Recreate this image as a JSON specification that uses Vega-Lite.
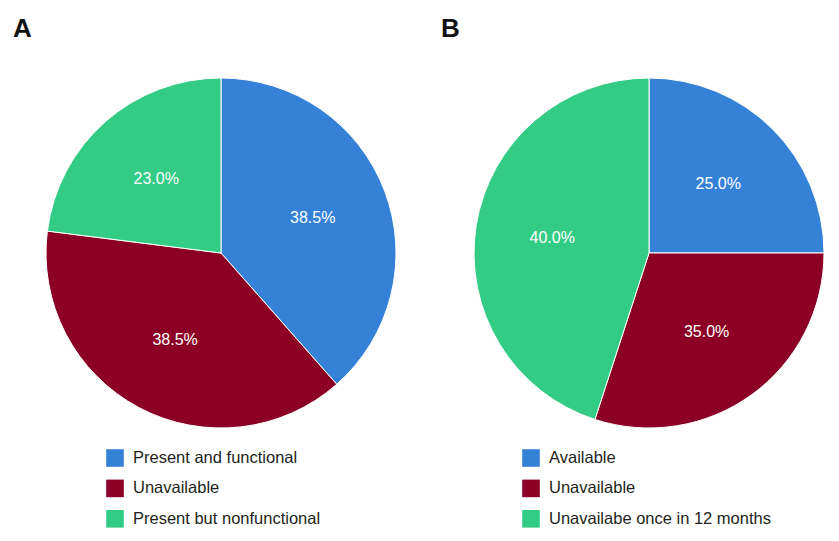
{
  "$schema": "https://vega.github.io/schema/vega-lite/v6.json",
  "autosize": {"type": "pad"},
  "padding": {"left": 13, "top": 16, "right": 5, "bottom": 5},
  "background": "white",
  "bounds": "flush",
  "spacing": 78,
  "resolve": {"scale": {"color": "independent", "theta": "independent"}, "legend": {"color": "independent"}},
  "config": {
    "view": {"stroke": null},
    "font": "Liberation Sans",
    "title": {"anchor": "start", "fontSize": 26, "fontWeight": "bold", "font": "Liberation Sans", "color": "#111111", "offset": 34, "baseline": "alphabetic", "dx": -31},
    "legend": {
      "orient": "none",
      "direction": "vertical",
      "title": null,
      "padding": 0,
      "symbolType": "square",
      "symbolSize": 310,
      "symbolStrokeWidth": 0,
      "symbolOpacity": 1,
      "labelFont": "Liberation Sans",
      "labelFontSize": 16.5,
      "labelColor": "#231f20",
      "labelOffset": 9,
      "labelLimit": 400,
      "rowPadding": 12.4
    }
  },
  "datasets": {
    "a": [
      {"category": "Present and functional", "value": 38.5, "label": "38.5%", "rank": 1},
      {"category": "Unavailable", "value": 38.5, "label": "38.5%", "rank": 2},
      {"category": "Present but nonfunctional", "value": 23.0, "label": "23.0%", "rank": 3}
    ],
    "b": [
      {"category": "Available", "value": 25.0, "label": "25.0%", "rank": 1},
      {"category": "Unavailable", "value": 30.0, "label": "35.0%", "rank": 2},
      {"category": "Unavailabe once in 12 months", "value": 45.0, "label": "40.0%", "rank": 3}
    ]
  },
  "hconcat": [
    {
      "title": {"text": "A"},
      "width": 350,
      "height": 350,
      "data": {"name": "a"},
      "encoding": {
        "theta": {"field": "value", "type": "quantitative", "stack": true},
        "order": {"field": "rank", "type": "quantitative"}
      },
      "layer": [
        {
          "mark": {"type": "arc", "outerRadius": 175, "stroke": "white", "strokeWidth": 1},
          "encoding": {
            "color": {
              "field": "category",
              "type": "nominal",
              "scale": {"domain": ["Present and functional", "Unavailable", "Present but nonfunctional"], "range": ["#3681d8", "#8b0024", "#33cc85"]},
              "legend": {"legendX": 60, "legendY": 371}
            }
          }
        },
        {
          "mark": {"type": "text", "radius": 98, "fontSize": 16, "color": "white", "font": "Liberation Sans"},
          "encoding": {"text": {"field": "label", "type": "nominal"}}
        }
      ]
    },
    {
      "title": {"text": "B"},
      "width": 350,
      "height": 350,
      "data": {"name": "b"},
      "encoding": {
        "theta": {"field": "value", "type": "quantitative", "stack": true},
        "order": {"field": "rank", "type": "quantitative"}
      },
      "layer": [
        {
          "mark": {"type": "arc", "outerRadius": 175, "stroke": "white", "strokeWidth": 1},
          "encoding": {
            "color": {
              "field": "category",
              "type": "nominal",
              "scale": {"domain": ["Available", "Unavailable", "Unavailabe once in 12 months"], "range": ["#3681d8", "#8b0024", "#33cc85"]},
              "legend": {"legendX": 48, "legendY": 371}
            }
          }
        },
        {
          "mark": {"type": "text", "radius": 98, "fontSize": 16, "color": "white", "font": "Liberation Sans"},
          "encoding": {"text": {"field": "label", "type": "nominal"}}
        }
      ]
    }
  ]
}
